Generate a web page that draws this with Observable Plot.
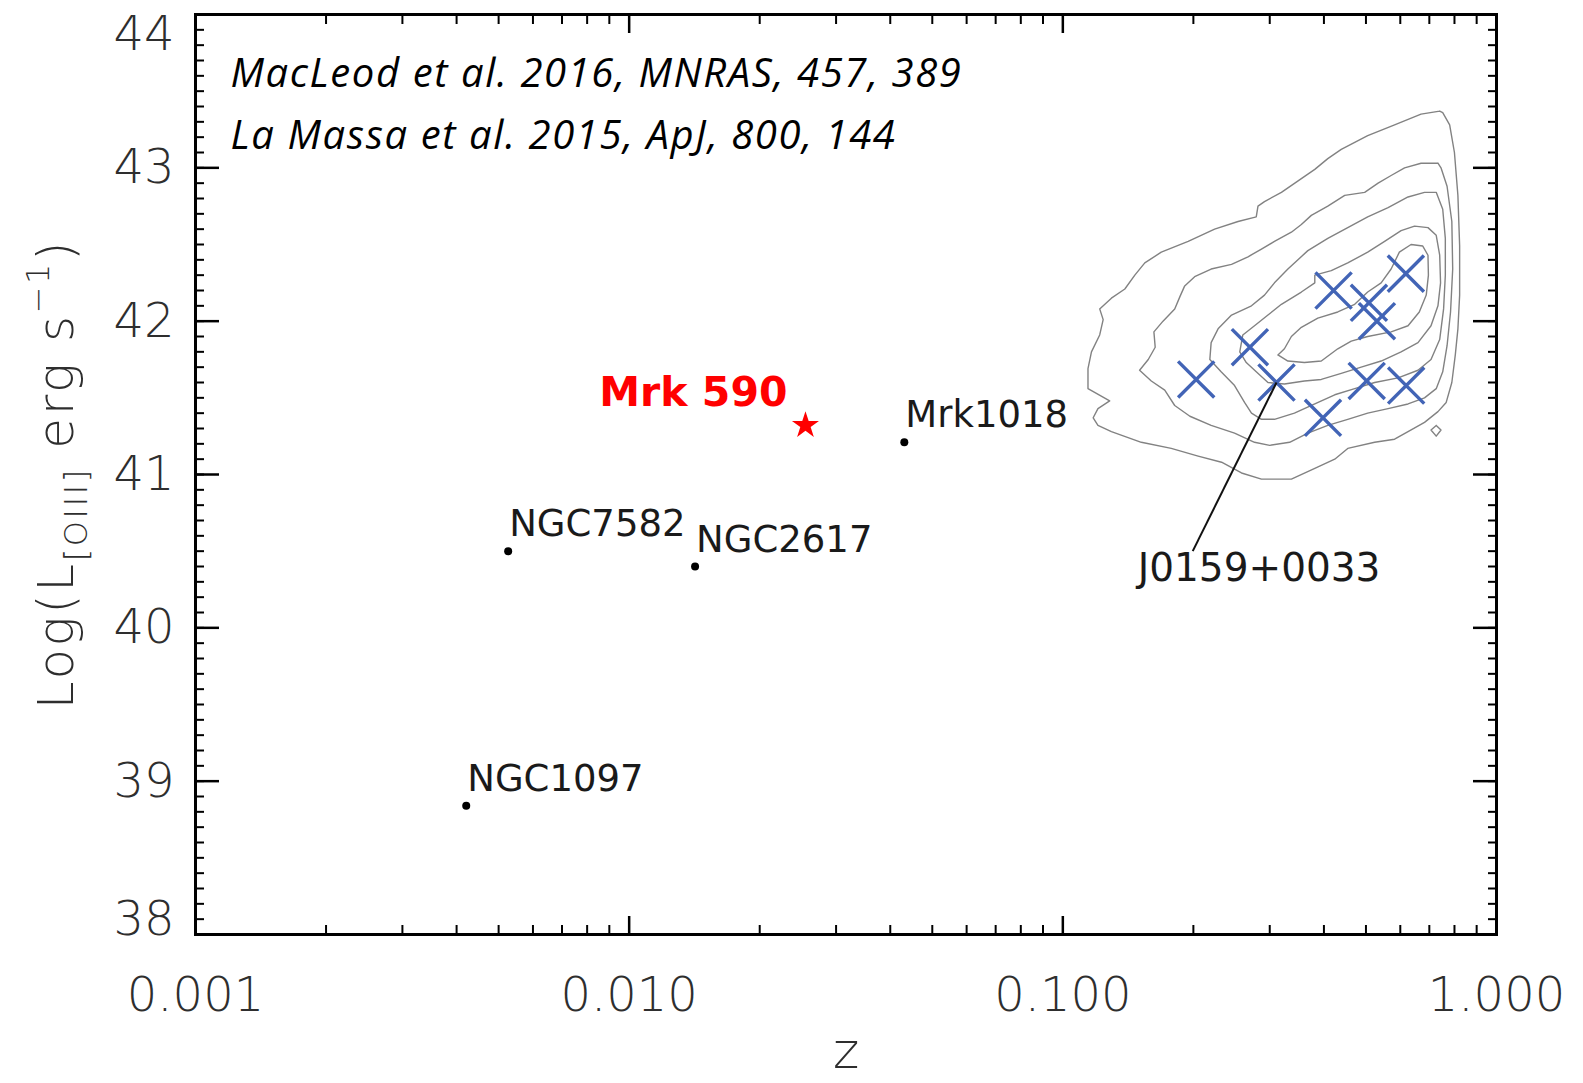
<!DOCTYPE html>
<html>
<head>
<meta charset="utf-8">
<script src="https://cdn.jsdelivr.net/npm/d3@7"></script>
<script src="https://cdn.jsdelivr.net/npm/@observablehq/plot@0.6"></script>
<style>
  html, body { margin: 0; padding: 0; background: #fff; }
  #chart svg { display: block; background: #fff; }
  .citation text { letter-spacing: 1.6px; }
</style>
</head>
<body>
<div id="chart"></div>
<script>
// Nearby AGN: redshift and log [OIII] luminosity (erg/s)
const nearbyNames = ["NGC1097", "NGC7582", "NGC2617", "Mrk1018"];
const nearbyZ = [0.00421, 0.00526, 0.01419, 0.0431];
const nearbyLogL = [38.84, 40.50, 40.40, 41.21];

// Mrk 590, highlighted
const highlightName = "Mrk 590";
const highlightZ = 0.0255;
const highlightLogL = 41.32;

// Changing-look quasars (crosses); index 2 is J0159+0033
const clqZ = [0.203, 0.270, 0.311, 0.421, 0.508, 0.530, 0.618, 0.398, 0.502, 0.619];
const clqLogL = [41.62, 41.83, 41.60, 42.20, 42.12, 42.00, 42.31, 41.37, 41.61, 41.58];
const calloutName = "J0159+0033";
const calloutIndex = 2;
// where the callout leader ends (label sits just below)
const calloutEndZ = 0.1993;
const calloutEndLogL = 40.50;

// Density contours of the SDSS quasar sample, vertices as [log10 z, log L]
const contourOuter = [[-0.131,43.37],[-0.174,43.35],[-0.235,43.28],[-0.297,43.21],[-0.358,43.12],[-0.389,43.06],[-0.419,42.99],[-0.450,42.93],[-0.496,42.84],[-0.535,42.78],[-0.550,42.75],[-0.554,42.68],[-0.596,42.65],[-0.650,42.60],[-0.711,42.52],[-0.773,42.45],[-0.811,42.38],[-0.834,42.30],[-0.857,42.21],[-0.888,42.15],[-0.915,42.08],[-0.907,42.01],[-0.915,41.91],[-0.934,41.80],[-0.942,41.69],[-0.942,41.56],[-0.892,41.48],[-0.919,41.43],[-0.930,41.37],[-0.919,41.32],[-0.888,41.28],[-0.819,41.21],[-0.750,41.17],[-0.688,41.12],[-0.634,41.08],[-0.588,41.01],[-0.542,40.97],[-0.473,40.97],[-0.419,41.04],[-0.373,41.10],[-0.343,41.17],[-0.281,41.21],[-0.235,41.23],[-0.204,41.28],[-0.166,41.34],[-0.135,41.41],[-0.116,41.47],[-0.103,41.60],[-0.095,41.78],[-0.089,41.95],[-0.085,42.17],[-0.085,42.49],[-0.089,42.82],[-0.097,43.10],[-0.108,43.28],[-0.124,43.36]];
const contour2 = [[-0.135,43.03],[-0.174,43.03],[-0.212,43.00],[-0.243,42.95],[-0.273,42.90],[-0.304,42.84],[-0.350,42.82],[-0.389,42.75],[-0.427,42.69],[-0.450,42.63],[-0.473,42.58],[-0.512,42.52],[-0.542,42.47],[-0.573,42.42],[-0.611,42.37],[-0.658,42.34],[-0.696,42.29],[-0.719,42.23],[-0.730,42.16],[-0.742,42.08],[-0.769,42.00],[-0.790,41.93],[-0.787,41.83],[-0.803,41.75],[-0.823,41.68],[-0.796,41.61],[-0.765,41.55],[-0.742,41.45],[-0.707,41.38],[-0.658,41.32],[-0.604,41.27],[-0.558,41.21],[-0.523,41.19],[-0.477,41.21],[-0.435,41.27],[-0.389,41.32],[-0.343,41.36],[-0.297,41.40],[-0.250,41.43],[-0.204,41.46],[-0.166,41.50],[-0.139,41.56],[-0.124,41.67],[-0.114,41.84],[-0.106,42.06],[-0.101,42.34],[-0.103,42.65],[-0.114,42.88],[-0.128,43.00]];
const contour3 = [[-0.661,41.75],[-0.658,41.86],[-0.642,41.95],[-0.611,42.04],[-0.565,42.10],[-0.535,42.17],[-0.512,42.25],[-0.481,42.34],[-0.435,42.46],[-0.389,42.54],[-0.343,42.61],[-0.297,42.68],[-0.250,42.74],[-0.204,42.81],[-0.166,42.84],[-0.139,42.84],[-0.124,42.73],[-0.118,42.54],[-0.118,42.30],[-0.122,42.08],[-0.131,41.88],[-0.151,41.75],[-0.181,41.68],[-0.227,41.63],[-0.281,41.60],[-0.327,41.56],[-0.373,41.52],[-0.419,41.46],[-0.466,41.40],[-0.512,41.36],[-0.542,41.36],[-0.565,41.40],[-0.581,41.47],[-0.604,41.58],[-0.635,41.67]];
const contour4 = [[-0.592,41.80],[-0.585,41.91],[-0.558,41.97],[-0.527,42.04],[-0.496,42.11],[-0.450,42.19],[-0.419,42.25],[-0.419,42.30],[-0.381,42.33],[-0.343,42.38],[-0.297,42.45],[-0.258,42.52],[-0.220,42.59],[-0.189,42.62],[-0.158,42.61],[-0.139,42.56],[-0.131,42.43],[-0.129,42.25],[-0.135,42.10],[-0.151,41.97],[-0.181,41.86],[-0.220,41.80],[-0.266,41.74],[-0.312,41.70],[-0.358,41.66],[-0.404,41.62],[-0.443,41.61],[-0.489,41.59],[-0.527,41.60],[-0.554,41.67],[-0.577,41.73]];
const contourInner = [[-0.504,41.78],[-0.489,41.82],[-0.473,41.90],[-0.450,41.96],[-0.412,42.02],[-0.366,42.06],[-0.327,42.11],[-0.297,42.19],[-0.266,42.25],[-0.243,42.34],[-0.224,42.45],[-0.197,42.50],[-0.170,42.49],[-0.158,42.43],[-0.157,42.30],[-0.162,42.17],[-0.178,42.06],[-0.204,41.97],[-0.243,41.93],[-0.297,41.90],[-0.335,41.87],[-0.366,41.82],[-0.404,41.74],[-0.443,41.73],[-0.481,41.74]];
const contourIsland = [[-0.139,41.32],[-0.128,41.29],[-0.139,41.25],[-0.151,41.29]];

// Axis ticks and labels
const xTicks = [0.001, 0.01, 0.1, 1];
const xTickLabels = ["0.001", "0.010", "0.100", "1.000"];
const yTicks = [38, 39, 40, 41, 42, 43, 44];
const citations = ["MacLeod et al. 2016, MNRAS, 457, 389", "La Massa et al. 2015, ApJ, 800, 144"];

// ---- tables built from the arrays above ----
const nearby = nearbyNames.map((name, i) => ({name, z: nearbyZ[i], logL: nearbyLogL[i]}));
const highlight = [{name: highlightName, z: highlightZ, logL: highlightLogL}];
const clq = clqZ.map((z, i) => ({z, logL: clqLogL[i]}));
const callout = [{
  name: calloutName,
  z1: clqZ[calloutIndex], y1: clqLogL[calloutIndex],
  z2: calloutEndZ, y2: calloutEndLogL
}];
const contourRows = [contourOuter, contour2, contour3, contour4, contourInner, contourIsland]
  .flatMap((poly, level) => [...poly, poly[0]].map(([lz, L]) => ({level, z: 10 ** lz, logL: L})));

// minor ticks: 2..9 within each decade, every 0.1 dex in luminosity
const xMinor = xTicks.slice(0, -1).flatMap(d => d3.range(2, 10).map(k => d * k));
const yMinor = d3.range(0, 61).map(i => 38 + i / 10);

const tickFont = "DejaVu Sans";
const tickColor = "#2e2e2e";
const yLabelStyle = {anchor: "left", tickSize: 0, tickPadding: 21, label: null, tickFormat: d => String(d),
  fontSize: 48, fontFamily: tickFont, fontWeight: 200, fill: tickColor};

const tickAxes = [];
for (const anchor of ["bottom", "top"]) {
  tickAxes.push(Plot.axisX(xMinor, {anchor, tickSize: -9, fill: "none", stroke: "black", strokeWidth: 2}));
  tickAxes.push(Plot.axisX(xTicks, {anchor, tickSize: -18, fill: "none", stroke: "black", strokeWidth: 2.5}));
}
for (const anchor of ["left", "right"]) {
  tickAxes.push(Plot.axisY(yMinor, {anchor, tickSize: -9, fill: "none", stroke: "black", strokeWidth: 2}));
  tickAxes.push(Plot.axisY(yTicks, {anchor, tickSize: -24, fill: "none", stroke: "black", strokeWidth: 2.5}));
}

const chart = Plot.plot({
  width: 1583,
  height: 1083,
  marginLeft: 195,
  marginRight: 87,
  marginTop: 14,
  marginBottom: 149,
  style: {background: "#fff"},
  x: {type: "log", domain: [0.001, 1], label: null},
  y: {domain: [38, 44], label: null},
  marks: [
    // sample contours
    Plot.line(contourRows, {x: "z", y: "logL", z: "level", stroke: "#828282", strokeWidth: 1.4, curve: "linear"}),

    // changing-look quasars
    Plot.dot(clq, {x: "z", y: "logL", symbol: "times", r: 16.5, stroke: "#4264b6", strokeWidth: 3.4}),

    // callout leader for J0159+0033
    Plot.link(callout, {x1: "z1", y1: "y1", x2: "z2", y2: "y2", stroke: "#111", strokeWidth: 2}),
    Plot.text(callout, {x: "z2", y: "y2", text: "name", textAnchor: "start", lineAnchor: "bottom",
      dx: -55, dy: 30, fontSize: 39, fontFamily: "DejaVu Sans", fill: "#1a1a1a"}),

    // nearby AGN
    Plot.dot(nearby, {x: "z", y: "logL", r: 4, fill: "black"}),
    Plot.text(nearby, {x: "z", y: "logL", text: "name", textAnchor: "start", lineAnchor: "bottom",
      dx: 1, dy: -15, fontSize: 37, fontFamily: "DejaVu Sans", fill: "#1a1a1a"}),

    // Mrk 590
    Plot.dot(highlight, {x: "z", y: "logL", symbol: "star", r: 8.5, fill: "#ff0000"}),
    Plot.text(highlight, {x: "z", y: "logL", text: "name", textAnchor: "end", lineAnchor: "bottom",
      dx: -18, dy: -19, fontSize: 41, fontWeight: "bold", fontFamily: "DejaVu Sans", fill: "#ff0000"}),

    // references
    Plot.text([citations.join("\n")], {text: d => d, frameAnchor: "top-left", textAnchor: "start",
      lineAnchor: "top", lineHeight: 1.55, dx: 35, dy: 28, fontSize: 40, fontStyle: "italic",
      fontFamily: "Open Sans", fill: "black", className: "citation"}),

    // axis frame and inward ticks
    Plot.frame({stroke: "black", strokeWidth: 3}),
    ...tickAxes,

    // tick labels (the end labels are nudged inside the axis range)
    Plot.axisX(xTicks, {anchor: "bottom", tickSize: 0, tickPadding: 42, label: null,
      tickFormat: d => xTickLabels[xTicks.indexOf(d)], fontSize: 48, fontFamily: tickFont,
      fontWeight: 200, fill: tickColor}),
    Plot.axisY(yTicks.slice(1, -1), yLabelStyle),
    Plot.axisY(yTicks.slice(-1), {...yLabelStyle, dy: 20}),
    Plot.axisY(yTicks.slice(0, 1), {...yLabelStyle, dy: -15}),

    // x-axis title
    Plot.text(["z"], {text: d => d, frameAnchor: "bottom", lineAnchor: "bottom", dy: 133,
      fontSize: 50, fontFamily: tickFont, fontWeight: 200, fill: tickColor})
  ]
});

// y-axis title with subscript and superscript
{
  const svg = d3.select(chart);
  const [yBottom, yTop] = chart.scale("y").range;
  const t = svg.append("text")
    .attr("transform", `translate(73, ${(yBottom + yTop) / 2}) rotate(-90)`)
    .attr("text-anchor", "middle")
    .attr("font-family", tickFont)
    .attr("font-weight", 200)
    .attr("font-size", 50)
    .attr("letter-spacing", "2.6px")
    .attr("fill", tickColor);
  t.append("tspan").text("Log(L");
  t.append("tspan").attr("font-size", 32).attr("dy", 14).text("[OIII]");
  t.append("tspan").attr("dy", -14).text(" erg s");
  t.append("tspan").attr("font-size", 32).attr("dy", -24).text("\u22121");
  t.append("tspan").attr("dy", 24).text(")");
}

document.getElementById("chart").append(chart);
</script>
</body>
</html>
